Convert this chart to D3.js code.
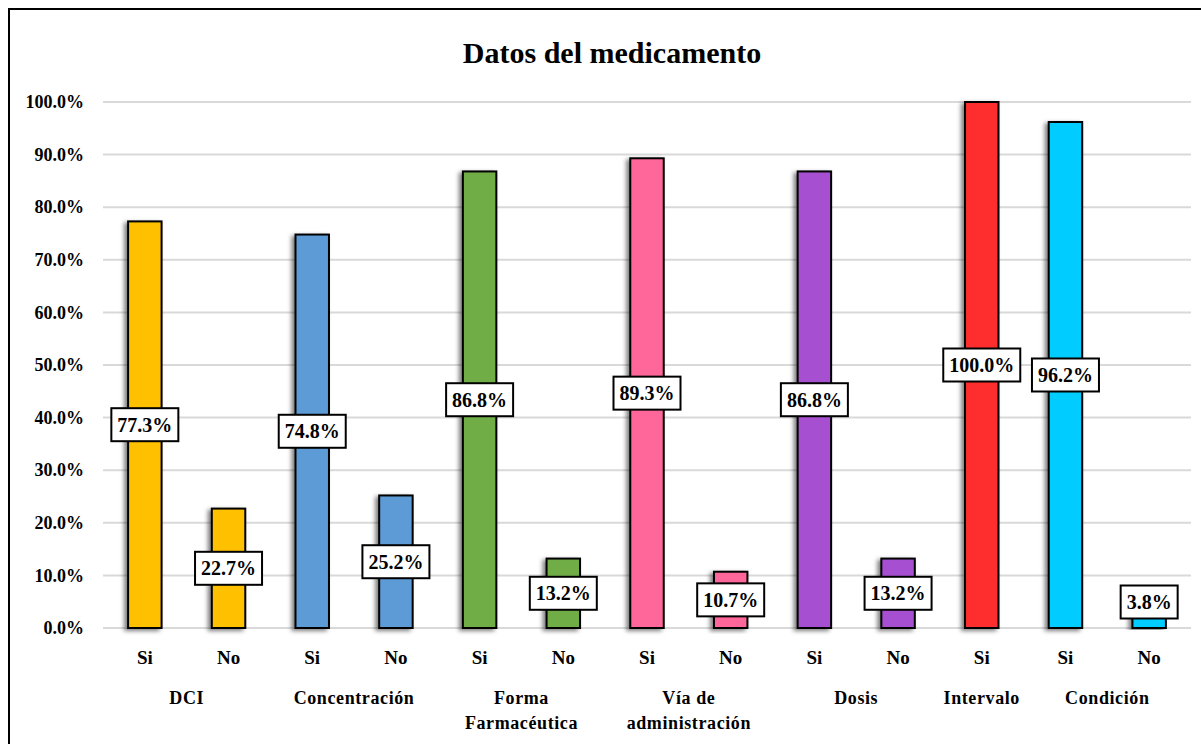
<!DOCTYPE html>
<html><head><meta charset="utf-8">
<script src="https://cdn.jsdelivr.net/npm/d3@7"></script>
<style>
html,body{margin:0;padding:0;background:#fff;}
svg{display:block;}
</style></head>
<body>
<svg id="chart" width="1201" height="744"></svg>
<script>
const title = "Datos del medicamento";
const groups = ["DCI","Concentración","Forma\nFarmacéutica","Vía de\nadministración","Dosis","Intervalo","Condición"];
const groupColors = ["#FFC000","#5B9BD5","#70AD47","#FF6699","#A64FD0","#FF2E2E","#00CCFF"];
const barGroup = [0,0,1,1,2,2,3,3,4,4,5,6,6];
const barLabels = ["Si","No","Si","No","Si","No","Si","No","Si","No","Si","Si","No"];
const values = [77.3,22.7,74.8,25.2,86.8,13.2,89.3,10.7,86.8,13.2,100.0,96.2,3.8];
const yTicks = [0,10,20,30,40,50,60,70,80,90,100];

const FONT = '"Liberation Serif"';
const svg = d3.select("#chart");
const M = {left:103, right:1191, top:102, bottom:628};

function serif(sel, size){
  return sel.style("font-family",FONT).style("font-weight","bold").style("font-size",size+"px").attr("fill","#000");
}

// frame
svg.append("rect").attr("x",9).attr("y",9).attr("width",1230).attr("height",800)
  .attr("fill","none").attr("stroke","#000").attr("stroke-width",2);

const defs = svg.append("defs");
const f = defs.append("filter").attr("id","shadow").attr("x","-50%").attr("y","-10%").attr("width","200%").attr("height","120%");
f.append("feDropShadow").attr("dx",-3).attr("dy",2).attr("stdDeviation",2).attr("flood-color","#000").attr("flood-opacity",0.5);

const idx = d3.range(values.length);
const x = d3.scaleBand().domain(idx).range([M.left, M.right]).paddingInner(0.6).paddingOuter(0.3);
const y = d3.scaleLinear().domain([0,100]).range([M.bottom, M.top]);

// title
serif(svg.append("text").attr("x",612).attr("y",63).attr("text-anchor","middle"),30).text(title);

// grid
svg.append("g").selectAll("line").data(yTicks).join("line")
  .attr("x1",M.left).attr("x2",M.right)
  .attr("y1",d=>y(d)).attr("y2",d=>y(d))
  .attr("stroke","#d9d9d9").attr("stroke-width",2);

// y axis labels
const yAxis = d3.axisLeft(y).tickValues(yTicks).tickFormat(d=>d.toFixed(1)+"%").tickSize(0).tickPadding(19);
const ga = svg.append("g").attr("transform",`translate(${M.left},0)`).call(yAxis);
ga.select(".domain").remove();
serif(ga.selectAll("text"),18);

// bars
svg.append("g").selectAll("rect").data(idx).join("rect")
  .attr("x",i=>x(i)).attr("width",x.bandwidth())
  .attr("y",i=>y(values[i])).attr("height",i=>y(0)-y(values[i]))
  .attr("fill",i=>groupColors[barGroup[i]])
  .attr("stroke","#000").attr("stroke-width",2)
  .attr("filter","url(#shadow)");

// value labels
const lg = svg.append("g");
idx.forEach(i=>{
  const cx = x(i)+x.bandwidth()/2;
  const cy = Math.min((y(values[i])+y(0))/2, y(0)-26);
  const g = lg.append("g");
  const r = g.append("rect");
  const t = serif(g.append("text").attr("x",cx).attr("y",cy).attr("dy","0.35em")
    .attr("text-anchor","middle"),20)
    .text(values[i].toFixed(1)+"%");
  const bb = t.node().getBBox();
  const w = bb.width+12, h = 33;
  r.attr("x",cx-w/2).attr("y",cy-h/2).attr("width",w).attr("height",h)
    .attr("fill","#fff").attr("stroke","#000").attr("stroke-width",2);
});

// x labels
serif(svg.append("g").selectAll("text").data(idx).join("text")
  .attr("x",i=>x(i)+x.bandwidth()/2).attr("y",664)
  .attr("text-anchor","middle"),19)
  .text(i=>barLabels[i]);

// group labels
groups.forEach((gname,gi)=>{
  const members = idx.filter(i=>barGroup[i]===gi);
  const cx = d3.mean(members, i=>x(i)+x.bandwidth()/2);
  const lines = gname.split("\n");
  const t = serif(svg.append("text").attr("x",cx).attr("y",704).attr("text-anchor","middle"),18)
    .style("letter-spacing","0.6px");
  lines.forEach((ln,li)=>{
    t.append("tspan").attr("x",cx).attr("dy",li===0?0:25).text(ln);
  });
});
</script>
</body></html>
